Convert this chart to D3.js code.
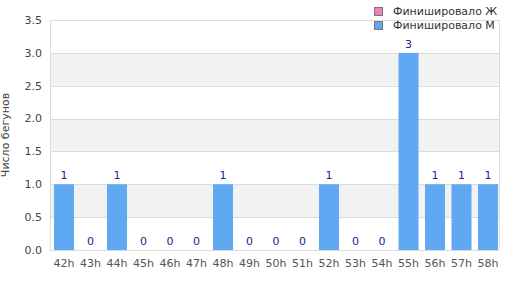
<!DOCTYPE html>
<html>
<head>
<meta charset="utf-8">
<script src="https://cdn.jsdelivr.net/npm/d3@7"></script>
<style>
  body { margin: 0; background: #fff; }
  text { font-family: "DejaVu Sans", sans-serif; }
</style>
</head>
<body>
<div id="chart"></div>
<script>
// Categories and values
var categories = ['42h','43h','44h','45h','46h','47h','48h','49h','50h','51h','52h','53h','54h','55h','56h','57h','58h'];
var finishedM = [1, 0, 1, 0, 0, 0, 1, 0, 0, 0, 1, 0, 0, 3, 1, 1, 1];
var yTicks = [0, 0.5, 1.0, 1.5, 2.0, 2.5, 3.0, 3.5];
var legendLabels = ['Финишировало Ж', 'Финишировало М'];
var legendColors = ['#f07fb8', '#60a8f2'];

var width = 510, height = 300;
var margin = { top: 20, right: 11, bottom: 50, left: 50 };

var svg = d3.select('#chart').append('svg')
    .attr('width', width)
    .attr('height', height);

// bars run a touch past the right frame, as in the original
var x = d3.scaleBand()
    .domain(categories)
    .range([50.75, 501.25])
    .paddingInner(0.245)
    .paddingOuter(0.1225);

var y = d3.scaleLinear()
    .domain([0, 3.5])
    .range([height - margin.bottom, margin.top]);

// alternating bands
var bands = d3.range(0, yTicks.length - 1);
svg.selectAll('rect.band')
    .data(bands)
    .enter()
    .append('rect')
        .attr('class', 'band')
        .attr('x', margin.left)
        .attr('width', width - margin.right - margin.left)
        .attr('y', function(i) { return y(yTicks[i + 1]); })
        .attr('height', function(i) { return y(yTicks[i]) - y(yTicks[i + 1]); })
        .style('fill', function(i) { return (i % 2 === 1) ? '#f2f2f2' : '#ffffff'; });

// grid lines
svg.selectAll('line.grid')
    .data(yTicks)
    .enter()
    .append('line')
        .attr('class', 'grid')
        .attr('x1', margin.left)
        .attr('x2', width - margin.right)
        .attr('y1', function(d) { return Math.round(y(d)) + 0.5; })
        .attr('y2', function(d) { return Math.round(y(d)) + 0.5; })
        .style('stroke', '#dcdcdc')
        .style('stroke-width', 1);

// frame left / right
[margin.left, width - margin.right].forEach(function(xx) {
    svg.append('line')
        .attr('x1', xx + 0.5).attr('x2', xx + 0.5)
        .attr('y1', y(3.5)).attr('y2', y(0))
        .style('stroke', '#dcdcdc');
});

// y tick labels
svg.selectAll('text.ytick')
    .data(yTicks)
    .enter()
    .append('text')
        .attr('class', 'ytick')
        .attr('x', margin.left - 8)
        .attr('y', function(d) { return y(d); })
        .attr('dy', '0.35em')
        .attr('text-anchor', 'end')
        .style('font-size', '11px')
        .style('fill', '#444')
        .text(function(d) { return d.toFixed(1); });

// y axis title
svg.append('text')
    .attr('transform', 'translate(9,' + ((y(0) + y(3.5)) / 2) + ') rotate(-90)')
    .attr('text-anchor', 'middle')
    .style('font-size', '11px')
    .style('fill', '#444')
    .text('Число бегунов');

// bars
svg.selectAll('rect.bar')
    .data(finishedM)
    .enter()
    .append('rect')
        .attr('class', 'bar')
        .attr('x', function(d, i) { return x(categories[i]); })
        .attr('width', x.bandwidth())
        .attr('y', function(d) { return y(d); })
        .attr('height', function(d) { return y(0) - y(d); })
        .style('fill', legendColors[1]);

// value labels
svg.selectAll('text.val')
    .data(finishedM)
    .enter()
    .append('text')
        .attr('class', 'val')
        .attr('x', function(d, i) { return x(categories[i]) + x.bandwidth() / 2; })
        .attr('y', function(d) { return y(d) - 5; })
        .attr('text-anchor', 'middle')
        .style('font-size', '11px')
        .style('fill', '#22228f')
        .text(function(d) { return d; });

// x tick labels
svg.selectAll('text.xtick')
    .data(categories)
    .enter()
    .append('text')
        .attr('class', 'xtick')
        .attr('x', function(d) { return x(d) + x.bandwidth() / 2; })
        .attr('y', y(0) + 17)
        .attr('text-anchor', 'middle')
        .style('font-size', '11px')
        .style('fill', '#555')
        .text(function(d) { return d; });

// legend
var legend = svg.selectAll('g.legend')
    .data(legendLabels)
    .enter()
    .append('g')
        .attr('class', 'legend')
        .attr('transform', function(d, i) { return 'translate(374,' + (7 + i * 14) + ')'; });
legend.append('rect')
    .attr('x', 0.5).attr('y', 0.5)
    .attr('width', 8).attr('height', 8)
    .style('fill', function(d, i) { return legendColors[i]; })
    .style('stroke', '#777');
legend.append('text')
    .attr('x', 19)
    .attr('y', 4.5)
    .attr('dy', '0.35em')
    .style('font-size', '11px')
    .style('fill', '#333')
    .text(function(d) { return d; });
</script>
</body>
</html>
